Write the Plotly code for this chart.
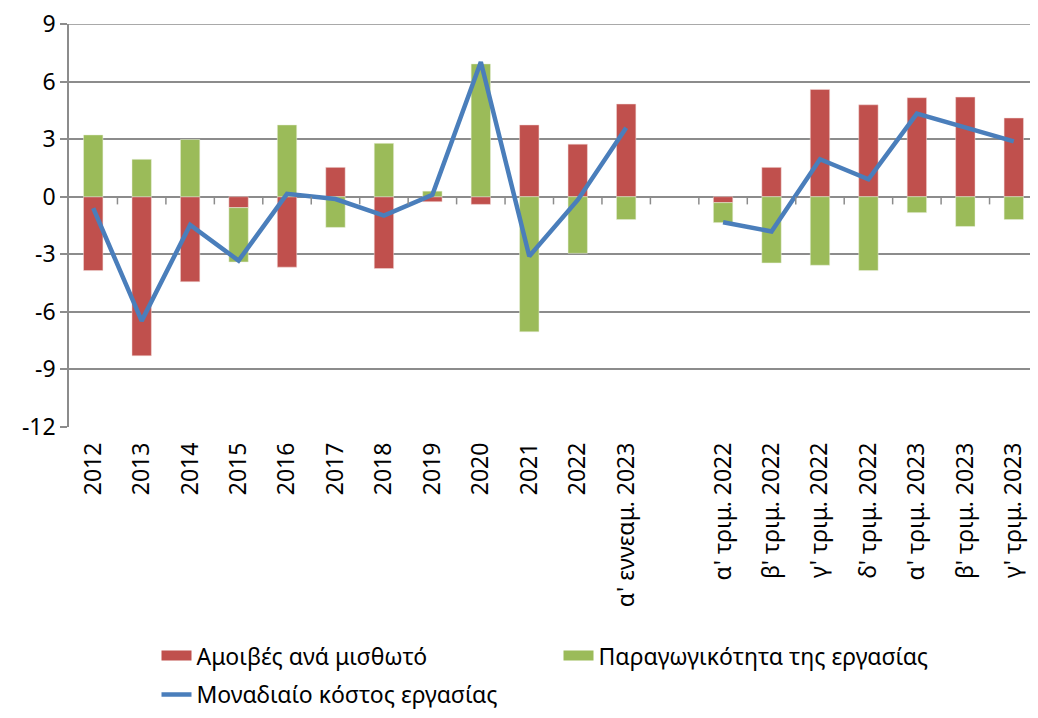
import plotly.graph_objects as go

categories = ["2012", "2013", "2014", "2015", "2016", "2017", "2018", "2019", "2020",
              "2021", "2022", "α' εννεαμ. 2023", " ",
              "α' τριμ. 2022", "β' τριμ. 2022", "γ' τριμ. 2022", "δ' τριμ. 2022",
              "α' τριμ. 2023", "β' τριμ. 2023", "γ' τριμ. 2023"]

wages = [-3.85, -8.29, -4.43, -0.57, -3.67, 1.53, -3.74, -0.26, -0.40,
         3.74, 2.74, 4.83, None,
         -0.31, 1.53, 5.59, 4.79, 5.16, 5.19, 4.10]

productivity = [3.22, 1.95, 2.98, -2.83, 3.74, -1.60, 2.78, 0.29, 6.92,
                -7.04, -2.95, -1.19, None,
                -1.04, -3.45, -3.57, -3.85, -0.83, -1.55, -1.19]

ulc = [-0.60, -6.47, -1.47, -3.33, 0.15, -0.12, -0.98, 0.10, 7.02,
       -3.10, -0.17, 3.60, None,
       -1.33, -1.81, 1.95, 0.91, 4.33, 3.60, 2.88]

yticks = [-12, -9, -6, -3, 0, 3, 6, 9]
yticklabels = ["-12", "-9", "-6", "-3", "0", "3", "6", "9"]

names = ["Αμοιβές ανά μισθωτό", "Παραγωγικότητα της εργασίας", "Μοναδιαίο κόστος εργασίας"]

RED = "#C0504D"
GREEN = "#9BBB59"
BLUE = "#4A7EBB"
GRID = "#8C8C8C"
FONT = "Noto Sans"
FS = 23

fig = go.Figure()
fig.add_trace(go.Bar(x=categories, y=wages, name=names[0], showlegend=False,
                     marker=dict(color=RED, line=dict(color="#F2DCDB", width=0.5))))
fig.add_trace(go.Bar(x=categories, y=productivity, name=names[1], showlegend=False,
                     marker=dict(color=GREEN, line=dict(color="#EBF1DE", width=0.5))))
# legend swatches (wide blocks like the original)
fig.add_trace(go.Scatter(x=[None], y=[None], name=names[0], mode="lines",
                         line=dict(color=RED, width=14), legend="legend"))
fig.add_trace(go.Scatter(x=[None], y=[None], name=names[1], mode="lines",
                         line=dict(color=GREEN, width=14), legend="legend"))
fig.add_trace(go.Scatter(x=categories, y=ulc, name=names[2],
                         mode="lines", line=dict(color=BLUE, width=4.5),
                         connectgaps=False, legend="legend2"))

# small tick marks on the zero line at category boundaries (Excel style)
shapes = []
for i in range(1, len(categories)):
    shapes.append(dict(type="line", xref="x", yref="y", x0=i - 0.5, x1=i - 0.5,
                       y0=0, y1=-0.4, line=dict(color=GRID, width=1.5), layer="above"))
# top border gridline (at the maximum of the value axis)
shapes.append(dict(type="line", xref="paper", yref="y", x0=0, x1=1,
                   y0=yticks[-1], y1=yticks[-1], line=dict(color=GRID, width=1.5),
                   layer="below"))

legend_font = dict(family=FONT, size=FS, color="black")

fig.update_layout(
    width=1030, height=710,
    margin=dict(l=61, r=0, t=16, b=291),
    barmode="relative",
    bargap=0.6,
    plot_bgcolor="white", paper_bgcolor="white",
    font=dict(family=FONT, size=FS, color="black"),
    shapes=shapes,
    showlegend=True,
    legend=dict(orientation="h", x=0.0903, y=-0.514, xanchor="left", yanchor="top",
                entrywidth=357, entrywidthmode="pixels", font=legend_font,
                traceorder="normal"),
    legend2=dict(orientation="h", x=0.0903, y=-0.717, xanchor="left", yanchor="bottom",
                 font=legend_font),
    xaxis=dict(type="category", categoryorder="array", categoryarray=categories,
               tickangle=-90, showgrid=False, zeroline=False, automargin=False,
               showline=False, ticks="", ticklabelstandoff=10,
               tickfont=dict(family=FONT, size=FS), range=[-0.5, len(categories) - 0.5]),
    yaxis=dict(range=[-12, 9], tickvals=yticks, ticktext=yticklabels, automargin=False,
               ticklabeloverflow="allow",
               showgrid=True, gridcolor=GRID, gridwidth=1.5,
               zeroline=True, zerolinecolor=GRID, zerolinewidth=1.5,
               showline=True, linecolor=GRID, linewidth=1.5,
               ticks="outside", ticklen=7, tickcolor=GRID, tickwidth=1.5,
               tickfont=dict(family=FONT, size=FS)),
)

fig.write_html("out.html")
